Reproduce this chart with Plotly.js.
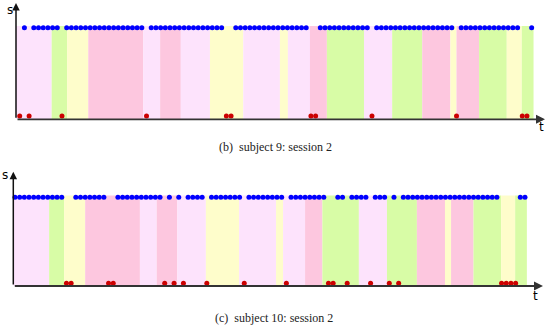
<!DOCTYPE html>
<html>
<head>
<meta charset="utf-8">
<script src="https://cdn.plot.ly/plotly-3.0.1.min.js"></script>
<style>html,body{margin:0;padding:0;background:#fff;}#chart{width:550px;height:326px;}</style>
</head>
<body>
<div id="chart"></div>
<script>
// State sequence s(t) per time step (1 = blue, 0 = red)
const s9 = [
  0,1,0,1,1,1,1,1,1,0,
  1,1,1,1,1,1,1,1,1,1,
  1,1,1,1,1,1,1,0,1,1,
  1,1,1,1,1,1,1,1,1,1,
  1,1,1,1,0,0,1,1,1,1,
  1,1,1,1,1,1,1,1,1,1,
  1,1,0,0,1,1,1,1,1,1,
  1,1,1,1,1,0,1,1,1,1,
  1,1,1,1,1,1,1,1,1,1,
  1,1,1,0,1,1,1,1,1,1,
  1,1,1,1,1,1,1,0,0,1
];
const s10 = [
  1,1,1,1,1,1,1,1,1,1,
  1,0,0,1,1,1,1,1,1,1,
  0,0,1,1,1,1,1,1,1,1,
  1,1,0,1,0,1,0,1,1,1,
  1,0,1,1,1,1,1,1,1,0,
  1,1,1,1,1,1,1,1,0,1,
  1,1,1,1,1,1,1,0,0,1,
  1,0,1,1,1,1,0,1,1,1,
  0,1,0,1,1,1,1,1,1,1,
  1,1,1,1,1,1,1,1,1,1,
  1,1,1,1,0,0,0,0,1,1
];
// Background segments (time boundaries) and their class
const bounds9  = [-0.8, 6.8, 10.1, 14.6, 26.3, 29.9, 34.3, 40.5, 47.6, 55.4, 57.1, 61.8, 65.4, 73.3, 79.3, 85.7, 91.7, 93.0, 97.8, 103.7, 106.9, 109.4];
const bounds10 = [-0.4, 7.3, 10.5, 15.0, 26.7, 30.3, 34.7, 40.8, 47.9, 55.8, 57.3, 62.0, 65.7, 73.5, 79.5, 85.9, 91.9, 93.2, 98.0, 103.9, 106.9, 109.4];
const classes  = ['A','G','Y','P','A','P','A','Y','A','Y','A','P','G','A','G','P','Y','P','G','Y','G'];
const captions = ['(b)\u00a0\u00a0subject 9: session 2', '(c)\u00a0\u00a0subject 10: session 2'];

const classColor = {A:'#fde3fc', G:'#d8fca6', Y:'#fefdcb', P:'#fdc7df'};

function pts(seq, val){
  const x=[], y=[];
  seq.forEach((v,i)=>{ if(v===val){ x.push(i); y.push(v); } });
  return {x, y};
}

const panels = [
  {seq:s9,  bounds:bounds9,  xa:'x',  ya:'y',  xr:[-0.79,111.84], yr:[-0.037,1.28]},
  {seq:s10, bounds:bounds10, xa:'x2', ya:'y2', xr:[-0.36,112.85], yr:[-0.031,1.298]}
];

const traces = [], shapes = [], annotations = [];
panels.forEach((p,k)=>{
  const b = pts(p.seq,1), r = pts(p.seq,0);
  traces.push({x:b.x, y:b.y, xaxis:p.xa, yaxis:p.ya, mode:'markers', type:'scatter',
    marker:{color:'#0000ff', size:5}, hoverinfo:'skip', showlegend:false, cliponaxis:false});
  traces.push({x:r.x, y:r.y, xaxis:p.xa, yaxis:p.ya, mode:'markers', type:'scatter',
    marker:{color:'#cc0000', size:5}, hoverinfo:'skip', showlegend:false, cliponaxis:false});
  for(let i=0;i<classes.length;i++){
    shapes.push({type:'rect', xref:p.xa, yref:p.ya, x0:p.bounds[i], x1:p.bounds[i+1],
      y0:p.yr[0], y1:1.02, fillcolor:classColor[classes[i]], line:{width:0}, layer:'below'});
  }
  // axes with arrows
  annotations.push({xref:p.xa, yref:p.ya, axref:p.xa, ayref:p.ya,
    x:p.xr[1], y:p.yr[0], ax:p.xr[0], ay:p.yr[0], text:'', showarrow:true,
    arrowhead:2, arrowsize:1, arrowwidth:1.8, arrowcolor:'#333'});
  annotations.push({xref:p.xa, yref:p.ya, axref:p.xa, ayref:p.ya,
    x:p.xr[0], y:p.yr[1], ax:p.xr[0], ay:p.yr[0], text:'', showarrow:true,
    arrowhead:2, arrowsize:1, arrowwidth:1.5, arrowcolor:'#111'});
});

const W=550, H=326;
const px = v=>v/W, py = v=>1-v/H;
const lab = (t,x,y,size,fam,col)=>({text:t, xref:'paper', yref:'paper', x:px(x), y:py(y),
  xanchor:'center', yanchor:'middle', showarrow:false, font:{size:size, family:fam, color:col}});
annotations.push(lab('s', 10, 10, 12, 'DejaVu Sans', '#000'));
annotations.push(lab('t', 541.5, 127, 12, 'DejaVu Sans', '#000'));
annotations.push(lab('s', 5, 175, 12, 'DejaVu Sans', '#000'));
annotations.push(lab('t', 535.5, 296, 12, 'DejaVu Sans', '#000'));
annotations.push(lab(captions[0], 275, 147.5, 12, 'Liberation Serif', '#222'));
annotations.push(lab(captions[1], 274, 317.5, 12, 'Liberation Serif', '#222'));

const ax = (dom, rng)=>({domain:dom, range:rng, visible:false, fixedrange:true});
const layout = {
  width:W, height:H, margin:{l:0,r:0,t:0,b:0},
  paper_bgcolor:'#fff', plot_bgcolor:'rgba(0,0,0,0)', showlegend:false,
  xaxis: ax([16/W, 545/W], panels[0].xr),
  yaxis: ax([py(119.3), py(3)], panels[0].yr),
  xaxis2: Object.assign(ax([13.3/W, 543/W], panels[1].xr), {anchor:'y2'}),
  yaxis2: Object.assign(ax([py(286), py(171.7)], panels[1].yr), {anchor:'x2'}),
  shapes, annotations
};
Plotly.newPlot('chart', traces, layout, {staticPlot:true, displayModeBar:false});
</script>
</body>
</html>
